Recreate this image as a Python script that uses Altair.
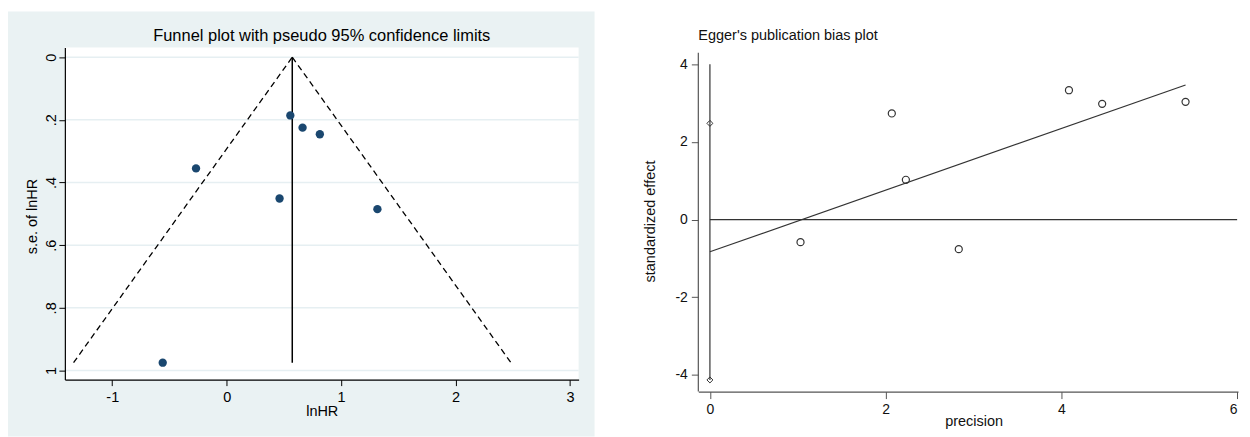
import altair as alt
import pandas as pd

FONT = "Liberation Sans"

# ---------------- data: funnel plot ----------------
funnel_lnhr = [0.556, 0.663, 0.814, -0.268, 0.462, 1.317, -0.559]
funnel_se = [0.186, 0.225, 0.246, 0.355, 0.451, 0.485, 0.975]
funnel_pooled = 0.573
funnel_se_max = 0.975
funnel_x_ticks = [-1, 0, 1, 2, 3]
funnel_y_ticks = [0, 0.2, 0.4, 0.6, 0.8, 1]
funnel_y_labels = ["0", ".2", ".4", ".6", ".8", "1"]

# ---------------- data: Egger plot ----------------
egger_precision = [1.031, 2.070, 2.230, 2.832, 4.086, 4.464, 5.413]
egger_effect = [-0.581, 2.735, 1.026, -0.761, 3.333, 2.983, 3.034]
egger_intercept = -0.829
egger_slope = 0.794
egger_ci = [2.48, -4.13]
egger_vline = [4.0, -4.13]
egger_x_ticks = [0, 2, 4, 6]
egger_y_ticks = [-4, -2, 0, 2, 4]


def label_expr(vals, labels):
    expr = "''"
    for v, l in reversed(list(zip(vals, labels))):
        expr = f"abs(datum.value - ({v})) < 1e-6 ? '{l}' : ({expr})"
    return expr


INT_LABEL = "'' + datum.value"

one = pd.DataFrame({"k": [0]})

# ================= LEFT: funnel plot =================
W1, H1 = 515, 333
xs1 = alt.Scale(domain=[-1.414, 3.075], nice=False, zero=False)
ys1 = alt.Scale(domain=[-0.031, 1.029], reverse=True, nice=False, zero=False)

pts1 = pd.DataFrame({"lnHR": funnel_lnhr, "se": funnel_se})
grid1 = pd.DataFrame({"se": funnel_y_ticks})
lim = 1.96 * funnel_se_max
funnel_df = pd.DataFrame({
    "lnHR": [funnel_pooled - lim, funnel_pooled, funnel_pooled, funnel_pooled + lim],
    "se": [funnel_se_max, 0, 0, funnel_se_max],
    "side": ["l", "l", "r", "r"],
})
vrule_df = pd.DataFrame({"lnHR": [funnel_pooled], "se": [0], "se2": [funnel_se_max]})

x_axis1 = alt.Axis(values=funnel_x_ticks, title="lnHR", grid=False, zindex=1, labelExpr=INT_LABEL,
                   domainColor="#000", domainWidth=1.2, tickColor="#000", tickSize=6,
                   labelPadding=5, labelFontSize=14.5, labelColor="#000", labelFont=FONT,
                   titleFontSize=14.5, titleFontWeight="normal", titleColor="#000", titleFont=FONT,
                   titleBaseline="middle", titleY=32, titleX=W1 / 2, titleAlign="center")
y_axis1 = alt.Axis(values=funnel_y_ticks, title="s.e. of lnHR", grid=False, zindex=1,
                   labelExpr=label_expr(funnel_y_ticks, funnel_y_labels),
                   labelAngle=270, labelAlign="center", labelBaseline="bottom",
                   domainColor="#000", domainWidth=1.2, tickColor="#000", tickSize=6,
                   labelPadding=0, labelFontSize=14.5, labelColor="#000", labelFont=FONT,
                   titleFontSize=14.5, titleFontWeight="normal", titleColor="#000", titleFont=FONT,
                   titleAngle=270, titleBaseline="middle", titleAlign="center",
                   titleX=-32, titleY=169)

X1 = alt.X("lnHR:Q", scale=xs1, axis=x_axis1)
Y1 = alt.Y("se:Q", scale=ys1, axis=y_axis1)

bg1 = alt.Chart(one).mark_rect(color="#eaf2f3").encode(
    x=alt.value(-57), x2=alt.value(531), y=alt.value(-36), y2=alt.value(390))
plot_bg1 = alt.Chart(one).mark_rect(color="white").encode(
    x=alt.value(0), x2=alt.value(W1), y=alt.value(0), y2=alt.value(H1))
gridl1 = alt.Chart(grid1).mark_rule(color="#e6eff2", strokeWidth=1.5).encode(y=Y1)
funnel_l = alt.Chart(funnel_df).mark_line(color="#000", strokeWidth=1.3, strokeDash=[6, 4]).encode(
    x=X1, y=Y1, detail="side:N")
vrule1 = alt.Chart(vrule_df).mark_rule(color="#000", strokeWidth=1.5).encode(
    x=X1, y=Y1, y2="se2:Q")
points1 = alt.Chart(pts1).mark_circle(size=70, color="#1a476f", opacity=1).encode(x=X1, y=Y1)
title1 = alt.Chart(one).mark_text(text="Funnel plot with pseudo 95% confidence limits",
                                  font=FONT, fontSize=16.5, align="center", baseline="alphabetic",
                                  color="#000").encode(x=alt.value(W1 / 2), y=alt.value(-6))

left = alt.layer(bg1, plot_bg1, gridl1, funnel_l, vrule1, points1, title1).properties(width=W1, height=H1)

# ================= RIGHT: Egger plot =================
W2, H2 = 541, 345
xs2 = alt.Scale(domain=[-0.132, 6.01], nice=False, zero=False)
ys2 = alt.Scale(domain=[-4.43, 4.436], nice=False, zero=False)
LC = "#333333"

pts2 = pd.DataFrame({"precision": egger_precision, "effect": egger_effect})
x_end = max(egger_precision)
reg_df = pd.DataFrame({"precision": [0, x_end],
                       "effect": [egger_intercept, egger_intercept + egger_slope * x_end]})
h0_df = pd.DataFrame({"precision": [0], "precision2": [egger_x_ticks[-1]], "effect": [0]})
v0_df = pd.DataFrame({"precision": [0], "effect": [egger_vline[0]], "effect2": [egger_vline[1]]})
ci_df = pd.DataFrame({"precision": [0, 0], "effect": egger_ci})
yaxis_df = pd.DataFrame({"effect": [-4.43], "effect2": [4.30]})

x_axis2 = alt.Axis(values=egger_x_ticks, title="precision", grid=False, zindex=1, labelExpr=INT_LABEL,
                   domainColor="#555", domainWidth=1.2, tickColor="#555", tickSize=7,
                   labelPadding=4, labelFontSize=14, labelColor="#111", labelFont=FONT,
                   titleFontSize=14.5, titleFontWeight="normal", titleColor="#111", titleFont=FONT,
                   titleBaseline="middle", titleY=30, titleX=276, titleAlign="center")
y_axis2 = alt.Axis(values=egger_y_ticks, title="standardized effect", grid=False, zindex=1,
                   labelExpr=INT_LABEL,
                   domain=False, tickColor="#555", tickSize=7,
                   labelPadding=4, labelFontSize=14, labelColor="#111", labelFont=FONT,
                   titleFontSize=14.5, titleFontWeight="normal", titleColor="#111", titleFont=FONT,
                   titleAngle=270, titleBaseline="middle", titleAlign="center",
                   titleX=-48, titleY=174)

X2 = alt.X("precision:Q", scale=xs2, axis=x_axis2)
Y2 = alt.Y("effect:Q", scale=ys2, axis=y_axis2)

bounds2 = alt.Chart(one).mark_rect(opacity=0).encode(
    x=alt.value(-60), x2=alt.value(W2 + 4), y=alt.value(-36), y2=alt.value(H2 + 40))
yaxis_line = alt.Chart(yaxis_df).mark_rule(color="#555", strokeWidth=1.2).encode(
    x=alt.value(0), y=Y2, y2="effect2:Q")
h0 = alt.Chart(h0_df).mark_rule(color=LC, strokeWidth=1.2).encode(x=X2, x2="precision2:Q", y=Y2)
v0 = alt.Chart(v0_df).mark_rule(color=LC, strokeWidth=1.2).encode(x=X2, y=Y2, y2="effect2:Q")
reg = alt.Chart(reg_df).mark_line(color=LC, strokeWidth=1.2).encode(x=X2, y=Y2)
ci = alt.Chart(ci_df).mark_point(shape="diamond", filled=False, size=36, color=LC, strokeWidth=1, opacity=1).encode(
    x=X2, y=Y2)
points2 = alt.Chart(pts2).mark_point(shape="circle", filled=False, size=50, color=LC, strokeWidth=1.2, opacity=1).encode(
    x=X2, y=Y2)
title2 = alt.Chart(one).mark_text(text="Egger's publication bias plot", font=FONT, fontSize=14.5,
                                  align="left", baseline="alphabetic", color="#111").encode(
    x=alt.value(0), y=alt.value(-7))

right = alt.layer(bounds2, yaxis_line, h0, v0, reg, ci, points2, title2).properties(width=W2, height=H2)

chart = alt.hconcat(left, right, spacing=44).properties(
    padding={"left": 0, "top": 3, "right": 0, "bottom": 0}
).configure(font=FONT).configure_view(stroke="transparent", strokeWidth=0)

chart.save("out.html", embed_options={"renderer": "svg", "actions": False})
